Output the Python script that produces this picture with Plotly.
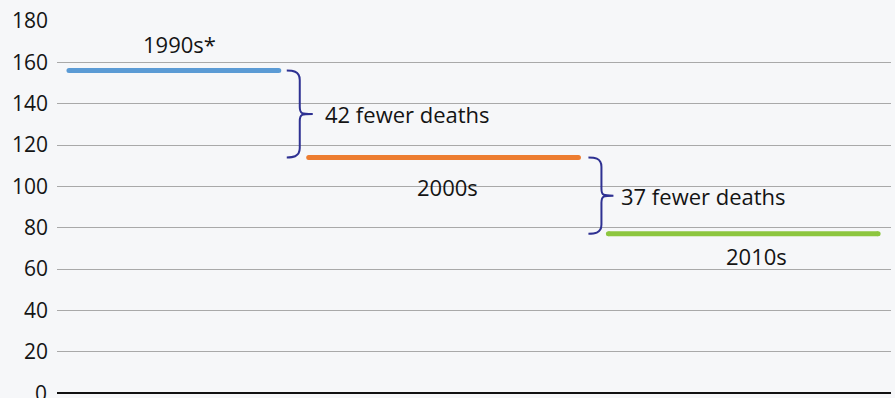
import plotly.graph_objects as go

# Average deaths per decade
decades = ["1990s*", "2000s", "2010s"]
start_years = [1992, 2000, 2010]
end_years = [1999, 2009, 2019]
deaths = [156, 114, 77]
colors = ["#5b9bd5", "#ed7d31", "#8dc63f"]

y_ticks = list(range(0, 181, 20))

FONT = "Open Sans"
TEXT = "#141414"
BRACE = "#2e3192"
LABEL_SIZE = 22
TICK_SIZE = 21

fig = go.Figure()

for name, x0, x1, v, c in zip(decades, start_years, end_years, deaths, colors):
    fig.add_trace(go.Scatter(
        x=[x0, x1], y=[v, v], mode="lines+markers",
        line=dict(color=c, width=5),
        marker=dict(color=c, size=5, line=dict(width=0)),
        hoverinfo="skip", showlegend=False, name=name,
    ))

# decade labels: first above its segment, others below
label_shift = [27, -30, -22]
label_xshift = [6, 4, 13]
for name, x0, x1, v, dy, dx in zip(decades, start_years, end_years, deaths, label_shift, label_xshift):
    fig.add_annotation(
        x=(x0 + x1) / 2, y=v, text=name, showarrow=False,
        xshift=dx, yshift=dy, font=dict(family=FONT, size=LABEL_SIZE, color=TEXT),
    )


def brace_path(top, bot, start, vert, tip, r1, r2):
    mid = (top + bot) / 2
    a = start + 5
    return (
        f"M {start},{top} C {a},{top} {vert},{top} {vert},{top - r1} "
        f"L {vert},{mid + r2} C {vert},{mid} {vert + 2},{mid} {tip},{mid} "
        f"M {tip},{mid} C {vert + 2},{mid} {vert},{mid} {vert},{mid - r2} "
        f"L {vert},{bot + r1} C {vert},{bot} {a},{bot} {start},{bot}"
    )


# braces showing the drop between consecutive decades
brace_geom = [(8, 21, 34, 10), (10, 23, 35, 6)]
for i in range(len(deaths) - 1):
    top, bot = deaths[i], deaths[i + 1]
    x_anchor = end_years[i]
    start, vert, tip, gap = brace_geom[i]
    fig.add_shape(
        type="path", path=brace_path(top, bot, start, vert, tip, 4.5, 3.5),
        xref="x", yref="y", xsizemode="pixel", xanchor=x_anchor,
        line=dict(color=BRACE, width=2),
    )
    fig.add_annotation(
        x=x_anchor, y=(top + bot) / 2, text=f"{top - bot} fewer deaths",
        showarrow=False, xanchor="left", xshift=tip + gap,
        font=dict(family=FONT, size=LABEL_SIZE, color=TEXT),
    )

# baseline tick label sits at the bottom edge
fig.add_annotation(
    x=0, xref="paper", xanchor="right", xshift=-8,
    y=0, yref="y", text="0", showarrow=False,
    font=dict(family=FONT, size=TICK_SIZE, color=TEXT),
)

fig.update_xaxes(
    range=[1991.6, 2019.43], showgrid=False, zeroline=False,
    showticklabels=False, ticks="", showline=False,
)
fig.update_yaxes(
    range=[0, 180], tickvals=y_ticks[1:], showgrid=True,
    gridcolor="#a9a9a9", gridwidth=1.4,
    zeroline=True, zerolinecolor="#111111", zerolinewidth=2,
    tickfont=dict(family=FONT, size=TICK_SIZE, color=TEXT), ticks="", ticklabelstandoff=8,
)
fig.update_layout(
    width=895, height=398,
    margin=dict(l=57, r=4, t=21, b=5),
    paper_bgcolor="#f6f7f9", plot_bgcolor="#f6f7f9",
    showlegend=False,
)

fig.write_html("out.html")
